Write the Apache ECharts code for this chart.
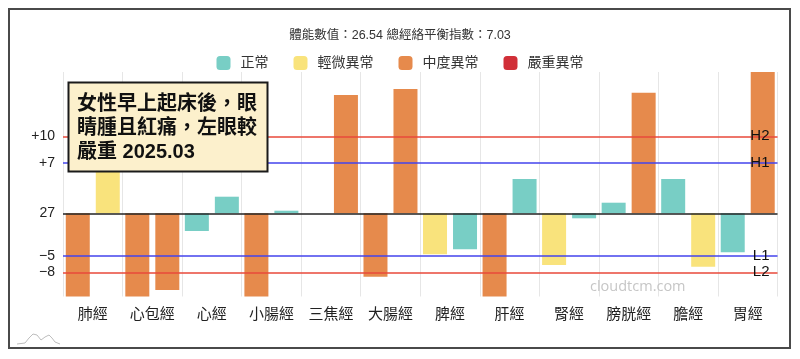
<!DOCTYPE html>
<html><head><meta charset="utf-8">
<script src="https://cdn.jsdelivr.net/npm/echarts@6/dist/echarts.min.js"></script>
<style>html,body{margin:0;padding:0;background:#fff}#c{width:800px;height:359px}</style>
</head><body><div id="c"></div>
<script>
const categories = ['肺經','心包經','心經','小腸經','三焦經','大腸經','脾經','肝經','腎經','膀胱經','膽經','胃經'];
const leftValues  = [-83.2, -83.2, -17.7, -83.2, 0, -63.4, -41, -83.2, -51.7, 10.6, 34.3, -39];
const rightValues = [62, -76.7, 16.6, 2.6, 118.3, 124.3, -36, 34.3, -5, 120.6, -53.4, 141.3];
const leftLevels  = [2, 2, 0, 2, 0, 2, 1, 2, 1, 0, 0, 0];
const rightLevels = [1, 2, 0, 0, 2, 2, 0, 0, 0, 2, 1, 2];
const levelNames  = ['正常','輕微異常','中度異常','嚴重異常'];
const levelColors = ['#78cec5','#f9e37c','#e68a4c','#d12f38'];
const thresholdValues = [77, 50.6, -42.4, -59];
const thresholdNames  = ['H2','H1','L1','L2'];
const thresholdColors = ['#e8483a','#4343ec','#4343ec','#e8483a'];
const yTickValues = [77, 50.6, 0, -42.4, -59];
const yTickLabels = ['+10','+7','27','−5','−8'];
const titleText = '體能數值：26.54 總經絡平衡指數：7.03';
const noteText = '女性早上起床後，眼\n睛腫且紅痛，左眼較\n嚴重 2025.03';
const watermarkText = 'cloudtcm.com';
const yMin = -83.2, yMax = 141.3;

const FONT = "'Liberation Sans','Noto Sans CJK TC',sans-serif";
const chart = echarts.init(document.getElementById('c'), null, {renderer: 'canvas'});

const markData = [
  {yAxis: 0, lineStyle: {color: '#222', width: 1.5, type: 'solid'}, label: {show: false}}
].concat(thresholdValues.map((v, i) => ({
  yAxis: v,
  lineStyle: {color: thresholdColors[i], width: 1.5, type: 'solid'},
  label: {show: true, position: 'insideEnd', formatter: thresholdNames[i], color: '#111', fontSize: 15, fontFamily: FONT, distance: 8}
})));

chart.setOption({
  animation: false,
  textStyle: {fontFamily: FONT},
  title: {text: titleText, left: 'center', top: 24, textStyle: {fontSize: 12.5, fontWeight: 'normal', color: '#333', fontFamily: FONT}},
  legend: {
    data: levelNames, top: 51, left: 'center', icon: 'roundRect', itemWidth: 14, itemHeight: 14, itemGap: 25,
    itemStyle: {opacity: 1},
    textStyle: {fontSize: 14, color: '#333', fontFamily: FONT, padding: [0, 0, 0, 5]}
  },
  grid: {left: 63, right: 22.5, top: 72, bottom: 62.5},
  xAxis: {
    type: 'category', data: categories,
    axisLine: {show: false}, axisTick: {show: false},
    splitLine: {show: true, interval: 0, lineStyle: {color: '#e6e6e6', width: 1}},
    axisLabel: {interval: 0, fontSize: 15, color: '#222', margin: 11, fontFamily: FONT}
  },
  yAxis: {
    type: 'value', min: yMin, max: yMax,
    axisLine: {show: false}, axisTick: {show: false}, splitLine: {show: false},
    axisLabel: {
      customValues: yTickValues, fontSize: 14, color: '#222', margin: 8, fontFamily: FONT,
      formatter: v => { const i = yTickValues.findIndex(t => Math.abs(t - v) < 0.01); return i >= 0 ? yTickLabels[i] : ''; }
    }
  },
  series: levelNames.map((n, i) => ({name: n, type: 'scatter', data: [], itemStyle: {color: levelColors[i], opacity: 1}})).concat([
    {
      name: 'left', type: 'bar', barWidth: 24, barGap: '25%',
      data: leftValues.map((v, i) => ({value: v, itemStyle: {color: levelColors[leftLevels[i]]}})),
      markLine: {symbol: 'none', silent: true, animation: false, data: markData}
    },
    {
      name: 'right', type: 'bar', barWidth: 24, barGap: '25%',
      data: rightValues.map((v, i) => ({value: v, itemStyle: {color: levelColors[rightLevels[i]]}}))
    }
  ]),
  graphic: [
    {type: 'rect', z: 100, silent: true, shape: {x: 9, y: 9, width: 781, height: 339}, style: {fill: 'none', stroke: '#4a4a4a', lineWidth: 2}},
    {type: 'rect', z: 100, silent: true, shape: {x: 68.5, y: 82.5, width: 199, height: 89}, style: {fill: '#fcf0cc', stroke: '#1a1a1a', lineWidth: 2}},
    {type: 'text', z: 101, silent: true, x: 77, y: 92, style: {text: noteText, lineHeight: 24, fill: '#111', font: "bold 20px 'Liberation Sans','Noto Sans CJK TC',sans-serif"}},
    {type: 'text', z: 50, silent: true, x: 590, y: 279, style: {text: watermarkText, fill: '#c6c6c6', font: "14.5px 'Open Sans',sans-serif"}},
    {type: 'polyline', z: 50, silent: true, shape: {points: [[17,344],[25,343],[29,338],[33,334],[37,335],[41,340],[45,337],[49,335],[52,338],[55,342],[60,344]]}, style: {stroke: '#bdbdbd', lineWidth: 1, fill: 'none'}}
  ]
});
</script></body></html>
